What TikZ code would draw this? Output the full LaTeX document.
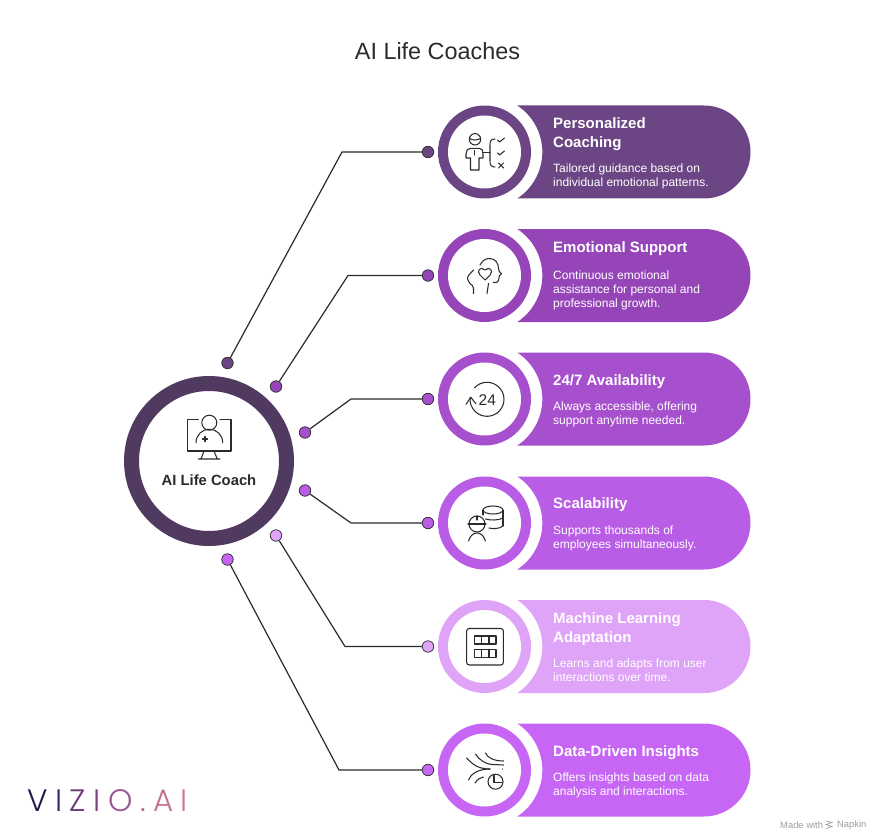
\documentclass[tikz,border=0pt]{standalone}
\usepackage{fontspec}
\setmainfont{Liberation Sans}
\newfontfamily\logofont{Poppins Light}
\usetikzlibrary{calc}
\definecolor{ca}{HTML}{6C4584}
\definecolor{cb}{HTML}{9545B8}
\definecolor{cc}{HTML}{A750CD}
\definecolor{cd}{HTML}{B95CE6}
\definecolor{ce}{HTML}{DFA3F8}
\definecolor{cf}{HTML}{C766F5}
\definecolor{hub}{HTML}{513A5F}
\definecolor{ink}{HTML}{2B2B2B}
\tikzset{
 px/.style={x=1pt,y=-1pt},
 link/.style={draw=ink,line width=1.2pt},
 icon/.style={draw=ink,line width=1.05pt,line cap=round,line join=round,fill=none},
 dot/.style={circle,draw=ink,line width=0.7pt,minimum size=11.5pt,inner sep=0pt},
 ttl/.style={anchor=north west,text=white,font=\fontsize{15}{19}\selectfont\bfseries,inner sep=0pt,align=left},
 dsc/.style={anchor=north west,text=white,font=\fontsize{12}{14.2}\selectfont,inner sep=0pt,align=left},
}
\newcommand{\band}[2]{%
 \fill[#2] (517.3,#1-46.5) -- (704,#1-46.5) arc[start angle=-90,end angle=90,radius=46.5] -- (517.3,#1+46.5)
   arc[start angle=56.6,end angle=-56.6,radius=55.7] -- cycle;
 \fill[#2] (484.5,#1) circle[radius=46.5];
 \fill[white] (484.5,#1) circle[radius=36.5];
}
\begin{document}
\begin{tikzpicture}[px]
\useasboundingbox (0,0) rectangle (875,837);
\fill[white] (0,0) rectangle (875,837);
\node[text=ink,font=\fontsize{23.4}{26}\selectfont] (title) at (437.5,51.5) {AI Life Coaches};
% hub
\node[circle,draw=hub,line width=15pt,fill=white,minimum size=155pt,inner sep=0pt] (hub) at (209,461) {};
\node[text=ink,font=\fontsize{14.8}{17}\selectfont\bfseries] (hubl) at (209,480) {AI Life Coach};
% bands
\band{152}{ca}\band{275.5}{cb}\band{399}{cc}\band{523}{cd}\band{646.5}{ce}\band{770}{cf}
% connectors
\coordinate (k1) at (342,152);
\coordinate (k2) at (348,275.5);
\coordinate (k3) at (351,399);
\coordinate (k4) at (351,523);
\coordinate (k5) at (345,646.5);
\coordinate (k6) at (339,770);
\node[dot,fill=ca] (r1) at (428,152) {};
\node[dot,fill=cb] (r2) at (428,275.5) {};
\node[dot,fill=cc] (r3) at (428,399) {};
\node[dot,fill=cd] (r4) at (428,523) {};
\node[dot,fill=ce] (r5) at (428,646.5) {};
\node[dot,fill=cf] (r6) at (428,770) {};
\node[dot,fill=ca] (l1) at (227.5,363) {};
\node[dot,fill=cb] (l2) at (276,386.5) {};
\node[dot,fill=cc] (l3) at (305,432.5) {};
\node[dot,fill=cd] (l4) at (305,490.5) {};
\node[dot,fill=ce] (l5) at (276,535.5) {};
\node[dot,fill=cf] (l6) at (227.5,559.5) {};
\foreach \i in {1,...,6}{\draw[link] (l\i) -- (k\i) -- (r\i);}
% texts
\node[ttl] (t1) at (553,117.2) {Personalized\\Coaching};
\node[dsc] (d1) at (553,163.5) {Tailored guidance based on\\individual emotional patterns.};
\node[ttl] (t2) at (553,241.5) {Emotional Support};
\node[dsc] (d2) at (553,270.7) {Continuous emotional\\assistance for personal and\\professional growth.};
\node[ttl] (t3) at (553,374) {24/7 Availability};
\node[dsc] (d3) at (553,401.5) {Always accessible, offering\\support anytime needed.};
\node[ttl] (t4) at (553,497) {Scalability};
\node[dsc] (d4) at (553,525.5) {Supports thousands of\\employees simultaneously.};
\node[ttl] (t5) at (553,612.2) {Machine Learning\\Adaptation};
\node[dsc] (d5) at (553,658.8) {Learns and adapts from user\\interactions over time.};
\node[ttl] (t6) at (553,745) {Data-Driven Insights};
\node[dsc] (d6) at (553,772.5) {Offers insights based on data\\analysis and interactions.};
% hub icon
\begin{scope}[icon,shift={(209,435)}]
 \draw (-10.7,-15.7) -- (-21.3,-15.7) -- (-21.3,16) -- (22,16) -- (22,-15.7) -- (11,-15.7);
 \draw (0.3,-12.3) circle[radius=7.5];
 \draw (-13,7.7) .. controls (-13,0) and (-7,-5.7) .. (0.3,-5.7) .. controls (7.7,-5.7) and (13.7,0) .. (13.7,7.7);
 \draw (-4,1.5) -- (-4,6.5) (-6.5,4) -- (-1.5,4);
 \draw (-5,16) -- (-8,24) (5,16) -- (8.3,24) (-10.7,24) -- (11,24);
\end{scope}
% icon 1
\begin{scope}[icon,shift={(484.5,152)}]
 \draw (-9.5,-12.7) circle[radius=5.7]; \draw (-15,-13.5) .. controls (-11,-11.5) and (-8,-11.5) .. (-4,-13.5);
 \draw (-10,-1.5) -- (-10,3);
 \draw (-5,-3.7) .. controls (-2,-3.7) and (-1.5,-1) .. (-1.5,2) -- (-1.5,6) -- (-5.5,6) -- (-5.5,18) -- (-14,18) -- (-14,6) -- (-18.5,6) -- (-18.5,2) .. controls (-18.5,-1) and (-17,-3.7) .. (-14,-3.7) -- cycle;
 \draw (10.5,-13) .. controls (6.5,-13) and (5.5,-11) .. (5.5,-7) -- (5.5,9) .. controls (5.5,13) and (6.5,15) .. (10.5,15);
 \draw (-1.5,0.7) -- (5.5,0.7);
 \draw (13,-12) -- (15,-10) -- (20,-14);
 \draw (13,1) -- (15,3) -- (20,-1);
 \draw (14,11) -- (19,16) (19,11) -- (14,16);
\end{scope}
% icon 2
\begin{scope}[icon,shift={(484.5,275.5)}]
 \draw (-11,-5.5) .. controls (-14,-2) and (-17,0) .. (-17,3) .. controls (-17,5) and (-15.5,6) .. (-14.5,8) .. controls (-12.5,9) and (-11,11) .. (-11,13) -- (-11,18);
 \draw (-4.5,-10.5) .. controls (-2,-15) and (1,-17) .. (5,-17) .. controls (11,-17) and (14,-12) .. (14,-7) .. controls (14,-5) and (15,-3) .. (17,-2) -- (15,0) -- (14,5) .. controls (13.5,7) and (11,7.5) .. (9,7);
 \draw (0.5,4.5) -- (-4.5,-0.5) .. controls (-8.5,-5) and (-4,-9.5) .. (0.5,-5.5) .. controls (5,-9.5) and (9.5,-5) .. (5.5,-0.5) -- cycle;
 \draw (4,8) -- (2.5,18);
\end{scope}
% icon 3
\begin{scope}[icon,shift={(484.5,399)}]
 \draw ($(2.5,0.3)+(-137:17)$) arc[start angle=-137,end angle=187,radius=17];
 \draw (-18.5,5.3) -- (-13.8,-1.7) -- (-8.5,4.7);
 \node[text=ink,font=\fontsize{15.5}{16}\selectfont,inner sep=0pt,draw=none] (i3) at (2.8,1) {24};
\end{scope}
% icon 4
\begin{scope}[icon,shift={(484.5,523)}]
 \draw (-7.5,1) circle[radius=8];
 \draw (-16.5,1) -- (1.5,1) (-7.5,-7) -- (-7.5,-3);
 \draw (-16,18) .. controls (-14,12) and (-11,10) .. (-7.5,10) .. controls (-4,10) and (-1,12) .. (1,18);
 \draw (8.5,-13) ellipse[x radius=10,y radius=4];
 \draw (-1.5,-13) -- (-1.5,-8) (18.5,-13) -- (18.5,3);
 \draw (1,-4) .. controls (6,-2.5) and (14,-2.5) .. (18.5,-5);
 \draw (4.5,5) .. controls (8,6) and (15,6) .. (18.5,3);
\end{scope}
% icon 5
\begin{scope}[icon,shift={(484.5,646.5)}]
 \draw[rounded corners=2.5pt] (-17.8,-18) rectangle (18.8,18.5);
 \draw (-10.2,-10.5) rectangle (11.5,-2.5) (-10.2,2.8) rectangle (11.5,11.2);
 \draw (-2.8,-10.5) -- (-2.8,-2.5) (4.5,-10.5) -- (4.5,-2.5) (-2.8,2.8) -- (-2.8,11.2) (4.5,2.8) -- (4.5,11.2);
\end{scope}
% icon 6
\begin{scope}[icon,shift={(484.5,770)}]
 \draw (1,-17) .. controls (3,-12) and (10,-9) .. (19,-9);
 \draw (-9,-16) .. controls (-6,-11) and (0,-6) .. (8,-5.5) -- (19,-5);
 \draw (-18,-12) .. controls (-14,-9) and (-10,-1) .. (5.5,-1);
 \draw (-16,10) .. controls (-14,5) and (-8,-1) .. (5.5,-1);
 \draw (-9.5,13) .. controls (-7,9) and (-4,7.5) .. (-1,7);
 \draw (11,11.7) circle[radius=7.5];
 \draw (9.5,5.5) -- (9.5,12.5) -- (17.5,12.5);
 \draw (18,-1.2) -- (18,-0.8);
\end{scope}
% footer
\node[anchor=west,inner sep=0pt,font=\logofont\fontsize{31}{31}\selectfont] (logo) at (27,800.5)
 {\textcolor[HTML]{1E1A4A}{V}\hspace{7.5pt}\textcolor[HTML]{3A2560}{I}\hspace{7.5pt}\textcolor[HTML]{6A3A78}{Z}\hspace{7.5pt}\textcolor[HTML]{7C4080}{I}\hspace{7.5pt}\textcolor[HTML]{9A5590}{O}\hspace{7.5pt}\textcolor[HTML]{B56A90}{.}\hspace{7.5pt}\textcolor[HTML]{C77090}{A}\hspace{7.5pt}\textcolor[HTML]{CE7595}{I}};
\node[anchor=west,inner sep=0pt,text=black!38,font=\fontsize{9.4}{10}\selectfont] (made) at (780,825) {Made with};
\node[anchor=west,inner sep=0pt,text=black!38,font=\fontsize{9.4}{10}\selectfont] (nap) at (837,825) {Napkin};
\draw[black!38,line width=0.7pt] (826,821) -- (832,822.5) -- (826,824.5) -- (832,826.5) -- (826,828.5);
\end{tikzpicture}
\end{document}
